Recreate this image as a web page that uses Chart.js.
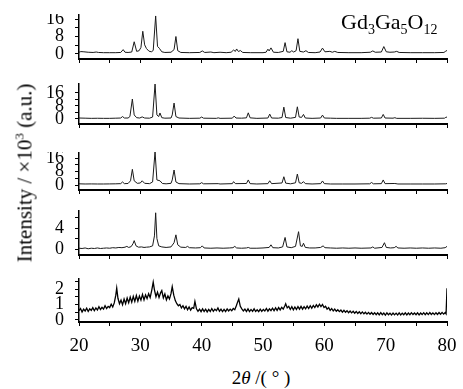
<!DOCTYPE html>
<html><head><meta charset="utf-8">
<script src="https://cdn.jsdelivr.net/npm/chart.js@4.4.0/dist/chart.umd.min.js"></script>
<style>
html,body{margin:0;padding:0;background:#fff;}
#wrap{position:relative;width:463px;height:389px;overflow:hidden;font-family:'Liberation Serif','Times New Roman',serif;color:#000;}
canvas{position:absolute;left:0;}
.txt{position:absolute;white-space:nowrap;line-height:1;}
</style></head><body>
<div id="wrap">
<canvas id="c1"></canvas><canvas id="c2"></canvas><canvas id="c3"></canvas><canvas id="c4"></canvas><canvas id="c5"></canvas>
<div class="txt" id="ytitle" style="left:25px;top:173px;font-size:21px;transform:translate(-50%,-50%) rotate(-90deg);">Intensity / ×10<sup style="font-size:13px;vertical-align:8px;line-height:0">3</sup> (a.u.)</div>
<div class="txt" id="ttl" style="left:341px;top:11px;font-size:22px;">Gd<sub style="font-size:14px;vertical-align:-5px;line-height:0">3</sub>Ga<sub style="font-size:14px;vertical-align:-5px;line-height:0">5</sub>O<sub style="font-size:14px;vertical-align:-5px;line-height:0">12</sub></div>
<div class="txt" id="xtitle" style="left:261px;top:377px;font-size:19px;transform:translate(-50%,-50%);">2<i>θ</i> /( ° )</div>
</div>
<script>
// ---- data ----
const xTickValues = [20,25,30,35,40,45,50,55,60,65,70,75,80];
const xLabelValues = [20,30,40,50,60,70,80];
const yTicks16 = [0,4,8,12,16];
const yLabels16 = [0,8,16];
const yTicks4 = [0,2,4,6];
const yLabels4 = [0,4];
const yTicks2 = [0,0.5,1,1.5,2,2.5];
const yLabels2 = [0,1,2];

const xrd1 = [[20,0.8],[20.3,1.1],[20.8,1.0],[21.5,0.8],[22.3,0.7],[22.8,0.9],[23.2,0.7],[24,0.6],[25,0.6],[26,0.6],[26.8,0.7],[27.2,2.0],[27.5,0.8],[28,0.7],[28.6,0.9],[29.0,5.6],[29.4,1.2],[29.8,1.5],[30.1,3],[30.4,10.4],[30.7,4.2],[31.0,2.5],[31.4,1.3],[31.8,1.0],[32.1,1.6],[32.5,17.4],[32.8,3.5],[33.1,2.6],[33.5,1.0],[34,0.7],[35,0.8],[35.5,2],[35.8,8],[36.1,1.5],[36.6,0.7],[38,0.6],[39.7,0.7],[40.1,1.4],[40.5,0.7],[41.5,0.9],[42,0.6],[43,0.8],[44,0.6],[44.8,0.8],[45.2,1.8],[45.5,1.2],[45.7,2.3],[46.0,1.1],[46.3,1.6],[46.7,0.7],[48,0.6],[50,0.6],[50.5,0.8],[50.8,2.2],[51.0,1.4],[51.3,2.8],[51.7,0.8],[52.5,0.7],[53.3,1.2],[53.6,5.2],[53.9,1.0],[54.4,0.8],[54.7,1.5],[55.0,0.9],[55.4,1.5],[55.7,7],[56.0,1.2],[56.6,0.9],[57.0,1.5],[57.4,0.7],[58.5,0.6],[59.3,0.9],[59.7,2.7],[60.1,1.0],[60.9,1.2],[61.3,0.8],[61.7,1.2],[62.2,0.7],[64,0.6],[66,0.6],[67.5,0.8],[67.9,1.4],[68.3,0.8],[69.3,0.9],[69.7,3.4],[70.1,1.0],[70.7,0.8],[71.4,0.9],[71.8,1.2],[72.2,0.7],[74,0.6],[76,0.6],[78,0.6],[79.5,0.7],[79.8,1.3],[80,1.6]];

const xrd2 = [[20,0.6],[21,0.5],[22,0.4],[23,0.45],[24,0.4],[25,0.4],[26,0.5],[26.8,0.6],[27.1,1.5],[27.4,0.6],[28.0,0.6],[28.3,1.5],[28.7,12.3],[29.0,2.5],[29.4,0.8],[29.9,0.6],[30.3,1.3],[30.7,0.6],[31.5,0.5],[32.0,1.2],[32.4,21.5],[32.7,2.5],[33.0,1.5],[33.2,3.7],[33.5,0.8],[34,0.5],[35,0.6],[35.2,2.5],[35.5,9.8],[35.8,1.5],[36.3,0.6],[38,0.4],[39.7,0.5],[40.0,1.2],[40.3,0.5],[42.4,0.4],[42.7,0.7],[43,0.4],[45.0,0.5],[45.3,1.8],[45.6,0.6],[46.5,0.5],[47.3,0.7],[47.6,3.8],[47.9,0.7],[49,0.4],[50.8,0.6],[51.1,3],[51.4,0.6],[52.5,0.5],[53.1,0.9],[53.4,7.3],[53.7,0.9],[54.5,0.5],[55.3,1.0],[55.6,7.5],[55.9,1.2],[56.3,1.0],[56.6,2.8],[56.9,0.6],[58,0.4],[59.4,0.6],[59.7,2.4],[60.0,0.6],[61,0.5],[62,0.4],[64,0.4],[66,0.4],[67.4,0.5],[67.7,1.0],[68.0,0.5],[69.3,0.6],[69.6,2.8],[69.9,0.6],[71.2,0.5],[71.5,0.8],[71.8,0.4],[74,0.4],[76,0.45],[78,0.4],[79.6,0.5],[79.8,1.0],[80,1.2]];

const xrd3 = [[20,0.7],[21,0.6],[22,0.65],[23,0.6],[24,0.6],[25,0.65],[26,0.7],[26.8,0.8],[27.1,1.8],[27.4,0.8],[28.0,0.9],[28.4,2.5],[28.7,9.3],[29.0,2.5],[29.5,1.0],[30.0,1.2],[30.3,2.5],[30.7,1.0],[31.5,0.8],[32.0,1.8],[32.4,19.7],[32.7,3],[33.2,2.5],[33.6,0.9],[34.2,0.7],[35.0,1.0],[35.2,3],[35.5,8.9],[35.8,1.8],[36.3,0.8],[38,0.6],[39.7,0.7],[40.0,1.4],[40.3,0.7],[42.7,0.8],[43,0.6],[45.0,0.8],[45.2,2.0],[45.5,0.8],[47.3,0.9],[47.6,3.0],[47.9,0.8],[49,0.6],[50.8,0.8],[51.1,2.5],[51.4,0.8],[53.1,1.2],[53.4,4.9],[53.7,1.1],[54.5,0.7],[55.3,1.3],[55.6,6.5],[55.9,1.3],[56.3,1.0],[56.6,2.0],[56.9,0.8],[58,0.6],[59.4,0.8],[59.7,2.4],[60.0,0.8],[61,0.6],[63,0.6],[65,0.6],[67.4,0.7],[67.7,1.5],[68.0,0.7],[69.3,0.8],[69.6,3.0],[69.9,0.8],[71.5,0.9],[72,0.6],[74,0.6],[76,0.6],[78,0.6],[79.8,0.7],[80,0.9]];

const xrd4 = [[20,0.15],[20.5,0.1],[21,0.2],[21.5,0.05],[22,0.15],[22.5,0.1],[23,0.2],[23.5,0.1],[24,0.15],[24.5,0.2],[25,0.15],[25.5,0.25],[26,0.2],[26.5,0.3],[27,0.25],[27.5,0.35],[27.8,0.5],[28.1,0.3],[28.5,0.45],[28.8,1.0],[29.0,1.6],[29.3,0.6],[29.7,0.35],[30.2,0.4],[30.6,0.3],[31.0,0.35],[31.5,0.4],[32.0,0.6],[32.3,2.5],[32.5,6.9],[32.7,2.0],[33.0,0.6],[33.5,0.4],[34.2,0.3],[35.0,0.4],[35.5,1.2],[35.8,2.7],[36.1,0.8],[36.6,0.35],[37.4,0.3],[37.7,0.5],[38.0,0.25],[39,0.2],[39.8,0.25],[40.1,0.6],[40.4,0.2],[41.5,0.15],[42.5,0.2],[43.5,0.15],[44.5,0.2],[45.1,0.25],[45.4,0.5],[45.7,0.2],[46.5,0.15],[47.3,0.2],[47.6,0.3],[47.9,0.15],[49,0.15],[50,0.2],[51.0,0.3],[51.3,0.8],[51.6,0.25],[52.5,0.2],[53.2,0.4],[53.6,2.2],[53.9,0.4],[54.6,0.25],[55.3,0.5],[55.8,3.3],[56.1,0.6],[56.4,0.5],[56.6,1.1],[56.9,0.3],[57.6,0.2],[58.5,0.2],[59.4,0.3],[59.8,0.6],[60.1,0.25],[61,0.2],[62,0.15],[63,0.2],[64,0.15],[65,0.2],[66,0.15],[67.6,0.2],[67.9,0.4],[68.2,0.15],[69.4,0.3],[69.8,1.2],[70.1,0.3],[70.8,0.2],[71.4,0.25],[71.7,0.5],[72.0,0.2],[73,0.15],[74,0.2],[75,0.15],[76,0.2],[77,0.15],[78,0.2],[79,0.15],[79.7,0.25],[80,0.5]];

const xrd5 = [[20.0,0.60],[20.25,0.74],[20.5,0.52],[20.75,0.70],[21.0,0.58],[21.25,0.76],[21.5,0.55],[21.75,0.72],[22.0,0.62],[22.25,0.80],[22.5,0.60],[22.75,0.78],[23.0,0.65],[23.25,0.86],[23.5,0.68],[23.75,0.82],[24.0,0.70],[24.25,0.92],[24.5,0.74],[24.75,0.88],[25.0,0.80],[25.25,1.02],[25.5,0.84],[25.75,1.10],[26.0,1.60],[26.15,2.05],[26.35,1.40],[26.6,1.05],[26.85,1.28],[27.1,0.98],[27.35,1.35],[27.6,1.05],[27.85,1.42],[28.1,1.12],[28.35,1.48],[28.6,1.15],[28.85,1.52],[29.1,1.20],[29.35,1.58],[29.6,1.22],[29.85,1.55],[30.1,1.28],[30.35,1.65],[30.6,1.30],[30.85,1.62],[31.1,1.38],[31.35,1.70],[31.6,1.45],[31.85,1.90],[32.1,2.45],[32.3,1.95],[32.55,1.50],[32.8,1.80],[33.05,1.45],[33.3,1.75],[33.5,1.90],[33.75,1.42],[34.0,1.68],[34.25,1.30],[34.5,1.55],[34.75,1.35],[35.0,1.70],[35.2,2.15],[35.45,1.60],[35.7,1.25],[35.95,1.05],[36.2,0.92],[36.45,1.00],[36.7,0.78],[36.95,0.92],[37.2,0.72],[37.45,0.88],[37.7,0.66],[37.95,0.84],[38.2,0.64],[38.45,0.80],[38.7,0.75],[38.9,1.20],[39.15,0.72],[39.4,0.56],[39.65,0.70],[39.9,0.54],[40.15,0.72],[40.4,0.55],[40.65,0.70],[40.9,0.52],[41.15,0.68],[41.4,0.55],[41.65,0.74],[41.9,0.56],[42.15,0.70],[42.4,0.60],[42.65,0.78],[42.9,0.56],[43.15,0.70],[43.4,0.54],[43.65,0.68],[43.9,0.55],[44.15,0.72],[44.4,0.58],[44.65,0.70],[44.9,0.60],[45.15,0.74],[45.4,0.66],[45.65,0.92],[45.9,1.20],[46.05,1.35],[46.3,0.88],[46.55,0.72],[46.8,0.58],[47.05,0.70],[47.3,0.55],[47.55,0.72],[47.8,0.54],[48.05,0.68],[48.3,0.56],[48.55,0.72],[48.8,0.55],[49.05,0.66],[49.3,0.54],[49.55,0.70],[49.8,0.56],[50.05,0.68],[50.3,0.58],[50.55,0.74],[50.8,0.57],[51.05,0.72],[51.3,0.60],[51.55,0.76],[51.8,0.60],[52.05,0.78],[52.3,0.62],[52.55,0.80],[52.8,0.65],[53.05,0.82],[53.3,0.70],[53.55,0.90],[53.7,1.05],[53.95,0.78],[54.2,0.88],[54.45,0.68],[54.7,0.86],[54.95,0.66],[55.2,0.84],[55.45,0.68],[55.7,0.86],[55.95,0.70],[56.2,0.88],[56.45,0.70],[56.7,0.86],[56.95,0.72],[57.2,0.90],[57.45,0.74],[57.7,0.92],[57.95,0.76],[58.2,0.94],[58.45,0.80],[58.7,0.98],[58.95,0.84],[59.2,1.02],[59.45,0.86],[59.7,1.00],[59.95,0.80],[60.2,0.88],[60.45,0.70],[60.7,0.80],[60.95,0.62],[61.2,0.74],[61.45,0.58],[61.7,0.70],[61.95,0.56],[62.2,0.66],[62.45,0.54],[62.7,0.64],[62.95,0.50],[63.2,0.62],[63.45,0.50],[63.7,0.60],[63.95,0.47],[64.2,0.58],[64.45,0.46],[64.7,0.56],[64.95,0.44],[65.2,0.55],[65.45,0.42],[65.7,0.53],[65.95,0.41],[66.2,0.52],[66.45,0.40],[66.7,0.50],[66.95,0.38],[67.2,0.49],[67.45,0.37],[67.7,0.48],[67.95,0.36],[68.2,0.47],[68.45,0.34],[68.7,0.46],[68.95,0.33],[69.2,0.47],[69.45,0.34],[69.7,0.45],[69.95,0.32],[70.2,0.46],[70.45,0.34],[70.7,0.44],[70.95,0.32],[71.2,0.45],[71.45,0.33],[71.7,0.44],[71.95,0.32],[72.2,0.46],[72.45,0.33],[72.7,0.44],[72.95,0.34],[73.2,0.46],[73.45,0.33],[73.7,0.45],[73.95,0.34],[74.2,0.47],[74.45,0.35],[74.7,0.45],[74.95,0.34],[75.2,0.46],[75.45,0.33],[75.7,0.45],[75.95,0.35],[76.2,0.47],[76.45,0.34],[76.7,0.46],[76.95,0.35],[77.2,0.48],[77.45,0.36],[77.7,0.46],[77.95,0.35],[78.2,0.47],[78.45,0.36],[78.7,0.48],[78.95,0.37],[79.2,0.49],[79.45,0.38],[79.7,0.48],[79.85,0.40],[80.0,2.05]];

// ---- layout ----
const FONT = "'Liberation Serif','Times New Roman',serif";
const panels = [
  {id:'c1', data:xrd1, top:14,  plotH:45, axisH:5,  yMin:-2.29, yMax:18.3,  yTicks:yTicks16, yLabels:yLabels16, showX:false, lw:1, color:'#1a1a1a'},
  {id:'c2', data:xrd2, top:83,  plotH:41, axisH:5,  yMin:-3.08, yMax:22.15, yTicks:yTicks16, yLabels:yLabels16, showX:false, lw:1, color:'#1a1a1a'},
  {id:'c3', data:xrd3, top:152, plotH:38, axisH:5,  yMin:-2.96, yMax:19.56, yTicks:yTicks16, yLabels:yLabels16, showX:false, lw:1, color:'#1a1a1a'},
  {id:'c4', data:xrd4, top:210, plotH:45, axisH:5,  yMin:-1.14, yMax:7.43,  yTicks:yTicks4,  yLabels:yLabels4,  showX:false, lw:1, color:'#1a1a1a'},
  {id:'c5', data:xrd5, top:278, plotH:44, axisH:40, yMin:-0.13, yMax:2.71,  yTicks:yTicks2,  yLabels:yLabels2,  showX:true,  lw:1.3, color:'#000'}
];

function makeChart(p){
  const cv = document.getElementById(p.id);
  cv.width = 463; cv.height = p.plotH + p.axisH;
  cv.style.width = '463px'; cv.style.height = (p.plotH + p.axisH) + 'px';
  cv.style.top = p.top + 'px';
  new Chart(cv, {
    type:'line',
    data:{datasets:[{data:p.data.map(d=>({x:d[0],y:d[1]})), borderColor:p.color, borderWidth:p.lw, pointRadius:0, tension:0, fill:false}]},
    options:{
      responsive:false, animation:false, events:[],
      plugins:{legend:{display:false}, tooltip:{enabled:false}},
      layout:{padding:{left:0,right:16,top:0,bottom:0}},
      scales:{
        x:{type:'linear', min:20, max:80,
          afterBuildTicks:s=>{s.ticks = xTickValues.map(v=>({value:v}));},
          afterFit:s=>{s.height=p.axisH; s.paddingLeft=0; s.paddingRight=0;},
          ticks:{display:p.showX, autoSkip:false, maxRotation:0, padding:9, color:'#000', font:{family:FONT, size:19},
            callback:v=> xLabelValues.includes(v) ? String(v) : ''},
          grid:{drawOnChartArea:false, drawTicks:true, tickLength:4, color:'#000', lineWidth:1},
          border:{display:true, color:'#000', width:2}},
        y:{type:'linear', min:p.yMin, max:p.yMax,
          afterBuildTicks:s=>{s.ticks = p.yTicks.map(v=>({value:v}));},
          afterFit:s=>{s.width=79; s.paddingTop=0; s.paddingBottom=0;},
          ticks:{autoSkip:false, padding:11, color:'#000', font:{family:FONT, size:18},
            callback:v=> p.yLabels.includes(v) ? String(v) : ''},
          grid:{drawOnChartArea:false, drawTicks:true, tickLength:4, color:'#000', lineWidth:1},
          border:{display:true, color:'#000', width:1.5}}
      }
    }
  });
}
panels.forEach(makeChart);
</script>
</body></html>
